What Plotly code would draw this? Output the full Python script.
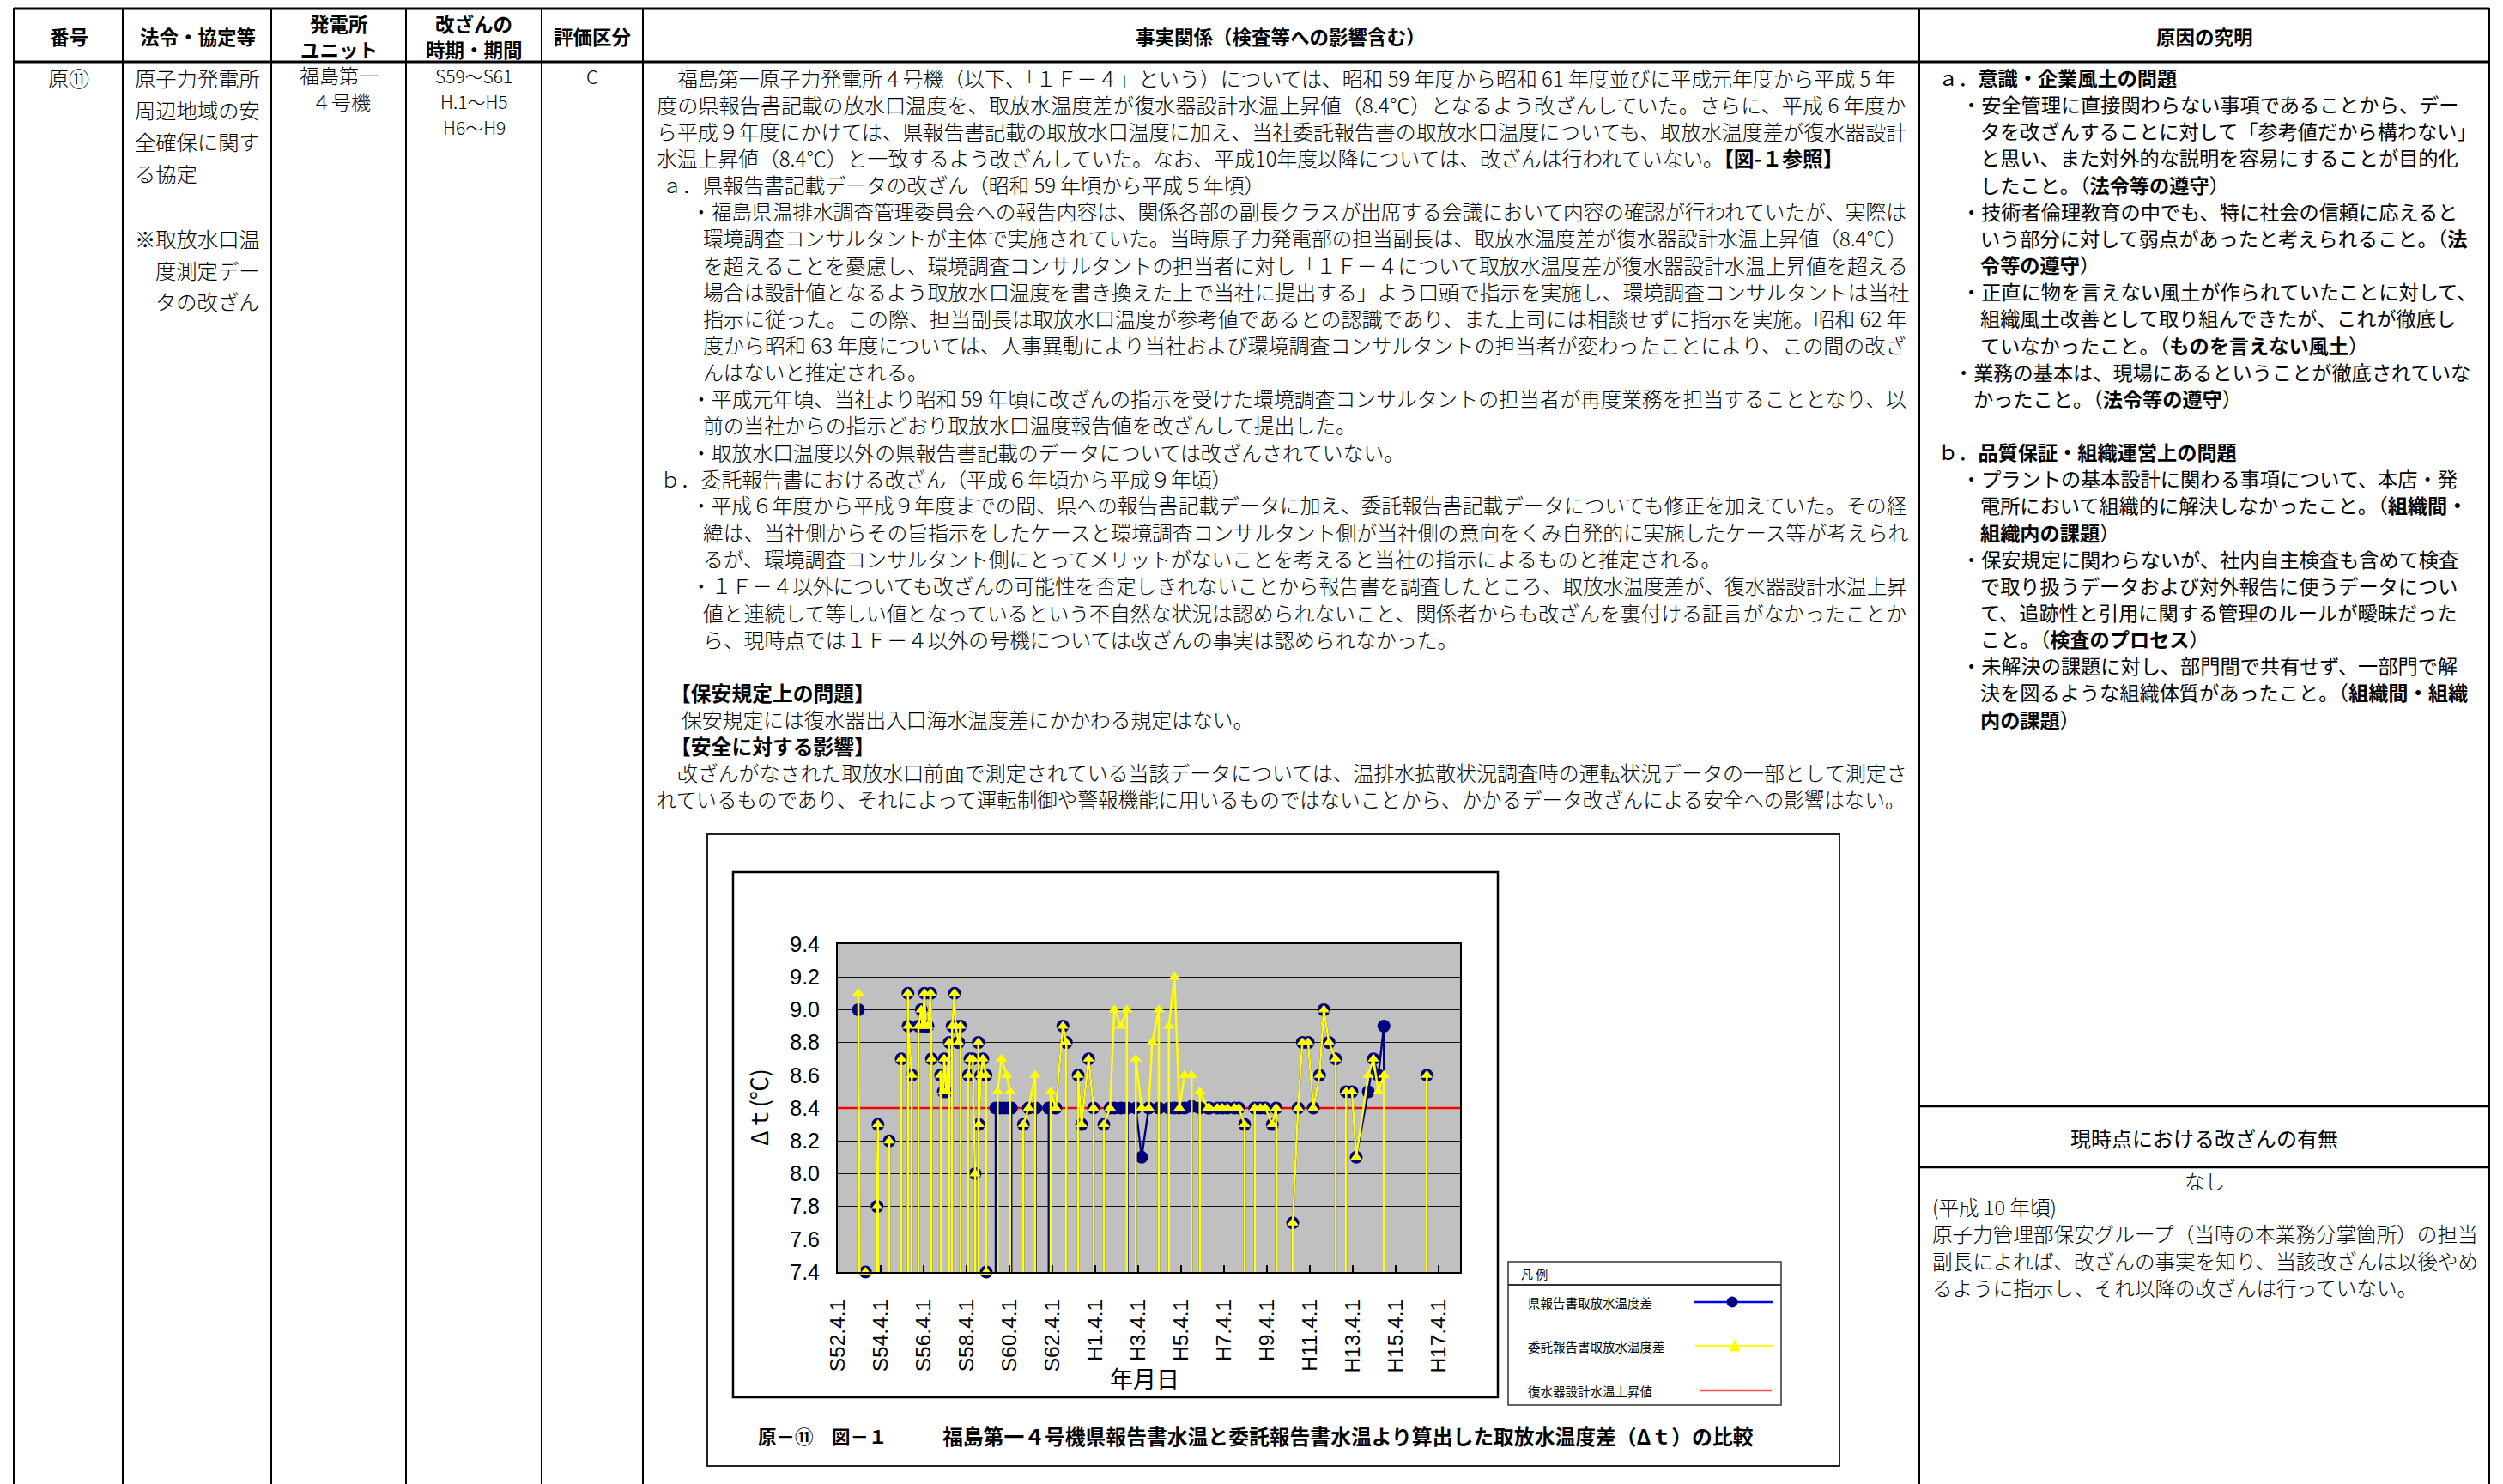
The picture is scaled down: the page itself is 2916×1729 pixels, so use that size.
import re
import plotly.graph_objects as go

W, H = 2916, 1729

# ------------------------------------------------------------------ chart data
# survey dates as decimal years; None = blank row between survey periods
TICK_DATES = [1977.25, 1979.25, 1981.25, 1983.25, 1985.25, 1987.25, 1989.25,
              1991.25, 1993.25, 1995.25, 1997.25, 1999.25, 2001.25, 2003.25, 2005.25]
TICK_LABELS = ["S52.4.1", "S54.4.1", "S56.4.1", "S58.4.1", "S60.4.1", "S62.4.1",
               "H1.4.1", "H3.4.1", "H5.4.1", "H7.4.1", "H9.4.1", "H11.4.1",
               "H13.4.1", "H15.4.1", "H17.4.1"]
X_RANGE = [1977.25, 2006.25]
Y_TICKS = [7.4, 7.6, 7.8, 8.0, 8.2, 8.4, 8.6, 8.8, 9.0, 9.2, 9.4]
DESIGN_RISE = 8.4  # 復水器設計水温上昇値

# 県報告書取放水温度差
KEN_DATES = [None,
    1978.21, None,
    1978.54, None,
    1979.08, 1979.12, None,
    1979.65, None,
    1980.21, None,
    1980.52, 1980.53, 1980.70, None,
    1981.01, 1981.14, 1981.20, 1981.29, 1981.34, 1981.45, 1981.58, 1981.62, None,
    1982.04, 1982.17, 1982.21, 1982.32, 1982.45, None,
    1982.58, 1982.69, 1982.74, 1982.88, 1982.97, None,
    1983.34, 1983.41, 1983.54, 1983.65, None,
    1983.80, 1983.82, 1983.92, 1984.01, 1984.16, 1984.17, None,
    1984.61, 1984.81, 1985.01, 1985.21, 1985.34, None,
    1985.90, 1986.14, 1986.48, None,
    1987.08, 1987.17, 1987.41, 1987.74, 1987.90, None,
    1988.45, 1988.61, 1988.94, 1989.17, None,
    1989.65, 1989.94, 1990.14, 1990.45, 1990.75, None,
    1991.14, 1991.41, 1991.74, 1992.21, None,
    1992.68, 1992.94, 1993.17, 1993.41, 1993.74, None,
    1994.12, 1994.50, 1994.58, 1994.94, 1995.17, 1995.41, 1995.74, 1995.94, 1996.21, None,
    1996.68, 1996.94, 1997.17, 1997.50, 1997.68, None,
    1998.45, 1998.70, 1998.90, 1999.17, 1999.41, 1999.70, 1999.90, 2000.14, 2000.45, None,
    2000.94, 2001.21, 2001.41, 2001.97, 2002.21, 2002.44, 2002.70, None,
    2004.70, None]
KEN_VALUES = [None,
    9.0, None,
    7.4, None,
    7.8, 8.3, None,
    8.2, None,
    8.7, None,
    9.1, 8.9, 8.6, None,
    8.9, 9.0, 8.9, 9.1, 8.9, 8.9, 9.1, 8.7, None,
    8.6, 8.5, 8.7, 8.5, 8.8, None,
    8.9, 9.1, 8.9, 8.8, 8.9, None,
    8.6, 8.7, 8.7, 8.0, None,
    8.8, 8.3, 8.6, 8.7, 8.6, 7.4, None,
    8.4, 8.4, 8.4, 8.4, 8.4, None,
    8.3, 8.4, 8.4, None,
    8.4, 8.4, 8.4, 8.9, 8.8, None,
    8.6, 8.3, 8.7, 8.4, None,
    8.3, 8.4, 8.4, 8.4, 8.4, None,
    8.4, 8.1, 8.4, 8.4, None,
    8.4, 8.4, 8.4, 8.4, 8.41, None,
    8.4, 8.4, 8.4, 8.4, 8.4, 8.4, 8.4, 8.4, 8.3, None,
    8.4, 8.4, 8.4, 8.3, 8.4, None,
    7.7, 8.4, 8.8, 8.8, 8.4, 8.6, 9.0, 8.8, 8.7, None,
    8.5, 8.5, 8.1, 8.5, 8.7, 8.6, 8.9, None,
    8.6, None]

# 委託報告書取放水温度差
ITAKU_DATES = [None,
    1978.21, None,
    1978.54, None,
    1979.08, 1979.12, None,
    1979.65, None,
    1980.21, None,
    1980.52, 1980.53, 1980.70, None,
    1981.01, 1981.14, 1981.20, 1981.29, 1981.34, 1981.45, 1981.58, 1981.62, None,
    1982.04, 1982.17, 1982.21, 1982.32, 1982.45, None,
    1982.58, 1982.69, 1982.74, 1982.88, 1982.97, None,
    1983.34, 1983.41, 1983.54, 1983.65, None,
    1983.80, 1983.82, 1983.92, 1984.01, 1984.16, 1984.17, None,
    1984.70, 1984.88, 1985.12, 1985.28, None,
    1985.90, 1986.14, 1986.45, None,
    1987.17, 1987.41, 1987.74, 1987.90, None,
    1988.45, 1988.61, 1988.94, 1989.17, None,
    1989.65, 1989.94, 1990.14, 1990.45, 1990.72, None,
    1991.14, 1991.41, 1991.74, 1991.90, 1992.21, None,
    1992.68, 1992.94, 1993.17, 1993.41, 1993.74, None,
    1994.12, 1994.50, 1994.58, 1994.94, 1995.17, 1995.41, 1995.74, 1995.94, 1996.21, None,
    1996.68, 1996.94, 1997.17, 1997.50, 1997.68, None,
    1998.45, 1998.70, 1998.90, 1999.17, 1999.41, 1999.70, 1999.90, 2000.14, 2000.45, None,
    2000.94, 2001.21, 2001.41, 2001.97, 2002.21, 2002.44, 2002.70, None,
    2004.70, None]
ITAKU_VALUES = [None,
    9.1, None,
    7.4, None,
    7.8, 8.3, None,
    8.2, None,
    8.7, None,
    9.1, 8.9, 8.6, None,
    8.9, 9.0, 8.9, 9.1, 8.9, 8.9, 9.1, 8.7, None,
    8.6, 8.5, 8.7, 8.5, 8.8, None,
    8.9, 9.1, 8.9, 8.8, 8.9, None,
    8.6, 8.7, 8.7, 8.0, None,
    8.8, 8.3, 8.6, 8.7, 8.6, 7.4, None,
    8.5, 8.7, 8.6, 8.5, None,
    8.3, 8.4, 8.6, None,
    8.5, 8.4, 8.9, 8.8, None,
    8.6, 8.3, 8.7, 8.4, None,
    8.3, 8.4, 9.0, 8.9, 9.0, None,
    8.7, 8.4, 8.4, 8.8, 9.0, None,
    8.9, 9.2, 8.4, 8.6, 8.6, None,
    8.5, 8.4, 8.4, 8.4, 8.4, 8.4, 8.4, 8.4, 8.3, None,
    8.4, 8.4, 8.4, 8.3, 8.4, None,
    7.7, 8.4, 8.8, 8.8, 8.4, 8.6, 9.0, 8.8, 8.7, None,
    8.5, 8.5, 8.1, 8.6, 8.7, 8.5, 8.6, None,
    8.6, None]

assert len(KEN_DATES) == len(KEN_VALUES)
assert len(ITAKU_DATES) == len(ITAKU_VALUES)

# ------------------------------------------------------------------ helpers
JP = "Noto Sans CJK JP"
LAT = "Liberation Sans, Arial, sans-serif"


def X(px):
    return px / W


def Y(py):
    return 1 - py / H


shapes = []
annotations = []


def line(x0, y0, x1, y1, w=2.0, color="black"):
    shapes.append(dict(type="line", xref="paper", yref="paper",
                       x0=X(x0), y0=Y(y0), x1=X(x1), y1=Y(y1),
                       line=dict(color=color, width=w)))


def rect(x0, y0, x1, y1, w=2.0, color="black"):
    shapes.append(dict(type="rect", xref="paper", yref="paper",
                       x0=X(x0), y0=Y(y0), x1=X(x1), y1=Y(y1),
                       line=dict(color=color, width=w), fillcolor="rgba(0,0,0,0)"))


def txt(x, y, s, size=23.6, anchor="left", family=JP, angle=0, color="black", weight=None):
    f = dict(family=family, size=size, color=color)
    if weight is not None:
        f["weight"] = weight
    annotations.append(dict(x=X(x), y=Y(y), xref="paper", yref="paper", text=s,
                            showarrow=False, xanchor=anchor, yanchor="middle",
                            textangle=angle, borderpad=0, font=f))


def em_width(s):
    s = re.sub(r"<[^>]+>", "", s)
    w = 0.0
    for ch in s:
        if ch == " ":
            w += 0.224
        elif ch.isdigit() and ord(ch) < 128:
            w += 0.553
        elif ch == ".":
            w += 0.27
        elif ord(ch) < 128:
            w += 0.6
        else:
            w += 1.0
    return w


def excel_path(dates, values):
    """Blank rows are plotted as zero by the source sheet (drop lines)."""
    xs, ys = [], []
    n = len(values)
    for i in range(n):
        if values[i] is None:
            if i > 0 and values[i - 1] is not None:
                xs.append(dates[i - 1]); ys.append(0.0)
            if i + 1 < n and values[i + 1] is not None:
                xs.append(dates[i + 1]); ys.append(0.0)
        else:
            xs.append(dates[i]); ys.append(values[i])
    return xs, ys


def points(dates, values):
    pts = [(d, v) for d, v in zip(dates, values) if v is not None]
    return [p[0] for p in pts], [p[1] for p in pts]


# ------------------------------------------------------------------ table frame
COLS = [16, 143, 316, 473, 631, 749, 2236, 2900]
line(COLS[0], 10, COLS[-1], 10, 3)
line(COLS[0], 72, COLS[-1], 72, 3)
for cx in COLS:
    line(cx, 9, cx, H, 2)
line(2236, 1289, 2900, 1289, 2.5)
line(2236, 1360, 2900, 1360, 2.5)

# header
HS = 22.5
txt(80, 42, "<b>番号</b>", HS, "center")
txt(230, 42, "<b>法令・協定等</b>", HS, "center")
txt(395, 27, "<b>発電所</b>", HS, "center")
txt(395, 57, "<b>ユニット</b>", HS, "center")
txt(552, 27, "<b>改ざんの</b>", HS, "center")
txt(552, 57, "<b>時期・期間</b>", HS, "center")
txt(690, 42, "<b>評価区分</b>", HS, "center")
txt(1492, 42, "<b>事実関係（検査等への影響含む）</b>", HS, "center")
txt(2568, 42, "<b>原因の究明</b>", HS, "center")

MW = 300  # light weight to imitate the Mincho body text

# left cells
txt(80, 91, "原⑪", 24, "center", weight=MW)
for yy, xx, s in [(91, 156, "原子力発電所"), (128, 156, "周辺地域の安"),
                  (165, 156, "全確保に関す"), (202, 156, "る協定"),
                  (277, 156, "※取放水口温"), (314, 180, "度測定デー"),
                  (351, 180, "タの改ざん")]:
    txt(xx, yy, s, 24.3, weight=MW)
txt(395, 87, "福島第一", 23, "center", weight=MW)
txt(397, 118, "４号機", 23, "center", weight=MW)
txt(552, 88, "S59～S61", 21, "center", weight=MW)
txt(552, 118, "H.1～H5", 21, "center", weight=MW)
txt(552, 148, "H6～H9", 21, "center", weight=MW)
txt(690, 88, "C", 22, "center", weight=MW)

# main column: (line index, left x, justified?, text)
MAIN = [
    (0, 788, True, "福島第一原子力発電所４号機（以下、「１Ｆ－４」という）については、昭和 59 年度から昭和 61 年度並びに平成元年度から平成 5 年"),
    (1, 764, True, "度の県報告書記載の放水口温度を、取放水温度差が復水器設計水温上昇値（8.4℃）となるよう改ざんしていた。さらに、平成 6 年度か"),
    (2, 764, True, "ら平成９年度にかけては、県報告書記載の取放水口温度に加え、当社委託報告書の取放水口温度についても、取放水温度差が復水器設計"),
    (3, 764, False, "水温上昇値（8.4℃）と一致するよう改ざんしていた。なお、平成10年度以降については、改ざんは行われていない。<b>【図-１参照】</b>"),
    (4, 770, False, "ａ．県報告書記載データの改ざん（昭和 59 年頃から平成５年頃）"),
    (5, 804, True, "・福島県温排水調査管理委員会への報告内容は、関係各部の副長クラスが出席する会議において内容の確認が行われていたが、実際は"),
    (6, 818, True, "環境調査コンサルタントが主体で実施されていた。当時原子力発電部の担当副長は、取放水温度差が復水器設計水温上昇値（8.4℃）"),
    (7, 818, True, "を超えることを憂慮し、環境調査コンサルタントの担当者に対し「１Ｆ－４について取放水温度差が復水器設計水温上昇値を超える"),
    (8, 818, True, "場合は設計値となるよう取放水口温度を書き換えた上で当社に提出する」よう口頭で指示を実施し、環境調査コンサルタントは当社"),
    (9, 818, True, "指示に従った。この際、担当副長は取放水口温度が参考値であるとの認識であり、また上司には相談せずに指示を実施。昭和 62 年"),
    (10, 818, True, "度から昭和 63 年度については、人事異動により当社および環境調査コンサルタントの担当者が変わったことにより、この間の改ざ"),
    (11, 818, False, "んはないと推定される。"),
    (12, 804, True, "・平成元年頃、当社より昭和 59 年頃に改ざんの指示を受けた環境調査コンサルタントの担当者が再度業務を担当することとなり、以"),
    (13, 818, False, "前の当社からの指示どおり取放水口温度報告値を改ざんして提出した。"),
    (14, 804, False, "・取放水口温度以外の県報告書記載のデータについては改ざんされていない。"),
    (15, 768, False, "ｂ．委託報告書における改ざん（平成６年頃から平成９年頃）"),
    (16, 804, True, "・平成６年度から平成９年度までの間、県への報告書記載データに加え、委託報告書記載データについても修正を加えていた。その経"),
    (17, 818, True, "緯は、当社側からその旨指示をしたケースと環境調査コンサルタント側が当社側の意向をくみ自発的に実施したケース等が考えられ"),
    (18, 818, False, "るが、環境調査コンサルタント側にとってメリットがないことを考えると当社の指示によるものと推定される。"),
    (19, 804, True, "・１Ｆ－４以外についても改ざんの可能性を否定しきれないことから報告書を調査したところ、取放水温度差が、復水器設計水温上昇"),
    (20, 818, True, "値と連続して等しい値となっているという不自然な状況は認められないこと、関係者からも改ざんを裏付ける証言がなかったことか"),
    (21, 818, False, "ら、現時点では１Ｆ－４以外の号機については改ざんの事実は認められなかった。"),
    (23, 780, False, "<b>【保安規定上の問題】</b>"),
    (24, 793, False, "保安規定には復水器出入口海水温度差にかかわる規定はない。"),
    (25, 780, False, "<b>【安全に対する影響】</b>"),
    (26, 788, True, "改ざんがなされた取放水口前面で測定されている当該データについては、温排水拡散状況調査時の運転状況データの一部として測定さ"),
    (27, 764, True, "れているものであり、それによって運転制御や警報機能に用いるものではないことから、かかるデータ改ざんによる安全への影響はない。"),
]
RIGHT_EDGE = 2224
for i, xx, just, s in MAIN:
    size = 23.8
    if just:
        size = max(22.8, min(24.6, (RIGHT_EDGE - xx) / em_width(s)))
    txt(xx, 90 + 31.15 * i, s, size, weight=MW)

# right column (gothic)
RIGHT = [
    (0, 2257, "ａ．<b>意識・企業風土の問題</b>"),
    (1, 2284, "・安全管理に直接関わらない事項であることから、デー"),
    (2, 2306, "タを改ざんすることに対して「参考値だから構わない」"),
    (3, 2306, "と思い、また対外的な説明を容易にすることが目的化"),
    (4, 2306, "したこと。（<b>法令等の遵守</b>）"),
    (5, 2284, "・技術者倫理教育の中でも、特に社会の信頼に応えると"),
    (6, 2306, "いう部分に対して弱点があったと考えられること。（<b>法</b>"),
    (7, 2306, "<b>令等の遵守</b>）"),
    (8, 2284, "・正直に物を言えない風土が作られていたことに対して、"),
    (9, 2306, "組織風土改善として取り組んできたが、これが徹底し"),
    (10, 2306, "ていなかったこと。（<b>ものを言えない風土</b>）"),
    (11, 2275, "・業務の基本は、現場にあるということが徹底されていな"),
    (12, 2298, "かったこと。（<b>法令等の遵守</b>）"),
    (14, 2257, "ｂ．<b>品質保証・組織運営上の問題</b>"),
    (15, 2284, "・プラントの基本設計に関わる事項について、本店・発"),
    (16, 2306, "電所において組織的に解決しなかったこと。（<b>組織間・</b>"),
    (17, 2306, "<b>組織内の課題</b>）"),
    (18, 2284, "・保安規定に関わらないが、社内自主検査も含めて検査"),
    (19, 2306, "で取り扱うデータおよび対外報告に使うデータについ"),
    (20, 2306, "て、追跡性と引用に関する管理のルールが曖昧だった"),
    (21, 2306, "こと。（<b>検査のプロセス</b>）"),
    (22, 2284, "・未解決の課題に対し、部門間で共有せず、一部門で解"),
    (23, 2306, "決を図るような組織体質があったこと。（<b>組織間・組織</b>"),
    (24, 2306, "<b>内の課題</b>）"),
]
for i, xx, s in RIGHT:
    txt(xx, 90 + 31.15 * i, s, 23.2)

txt(2568, 1325, "現時点における改ざんの有無", 24, "center")
txt(2568, 1376, "なし", 23.6, "center", weight=MW)
txt(2250, 1406, "(平成 10 年頃)", 23.6, weight=MW)
txt(2250, 1437, "原子力管理部保安グループ（当時の本業務分掌箇所）の担当", 23.6, weight=MW)
txt(2250, 1469, "副長によれば、改ざんの事実を知り、当該改ざんは以後やめ", 23.6, weight=MW)
txt(2250, 1500, "るように指示し、それ以降の改ざんは行っていない。", 23.6, weight=MW)

# ------------------------------------------------------------------ figure frame
rect(824, 972, 2143, 1708, 2, "#222222")
rect(854, 1016, 1745, 1628, 2.5, "black")
txt(882, 1672, "<b>原－⑪　図－１</b>", 21.5)
txt(1097, 1672, "<b>福島第一４号機県報告書水温と委託報告書水温より算出した取放水温度差（Δｔ）の比較</b>", 23.8)
txt(883, 1290, "Δｔ(℃)", 27, "center", angle=-90)
txt(1333, 1605, "年月日", 27, "center")

# legend (drawn as in the source sheet)
rect(1757, 1470, 2075, 1637, 1.5, "#333333")
line(1757, 1497, 2075, 1497, 2, "#333333")
txt(1771, 1484, "凡 例", 14)
txt(1779, 1517, "県報告書取放水温度差", 14.5)
txt(1779, 1568, "委託報告書取放水温度差", 14.5)
txt(1779, 1620, "復水器設計水温上昇値", 14.5)
line(1973, 1517, 2065, 1517, 2.5, "#0000FF")
shapes.append(dict(type="circle", xref="paper", yref="paper",
                   x0=X(2012), y0=Y(1523), x1=X(2024), y1=Y(1511),
                   fillcolor="#000080", line=dict(color="#000080", width=1)))
line(1975, 1568, 2065, 1568, 2, "#FFFF00")
shapes.append(dict(type="path", xref="paper", yref="paper",
                   path=f"M {X(2015)} {Y(1574)} L {X(2027)} {Y(1574)} L {X(2021)} {Y(1561)} Z",
                   fillcolor="#FFFF00", line=dict(color="#FFFF00", width=1)))
line(1980, 1620, 2064, 1620, 2.5, "#FF5050")

# ------------------------------------------------------------------ chart
fig = go.Figure()
fig.add_trace(go.Scatter(x=X_RANGE, y=[DESIGN_RISE, DESIGN_RISE], mode="lines",
                         line=dict(color="#FF0000", width=2.5),
                         name="復水器設計水温上昇値", hoverinfo="skip"))

kx, ky = excel_path(KEN_DATES, KEN_VALUES)
fig.add_trace(go.Scatter(x=kx, y=ky, mode="lines",
                         line=dict(color="#000080", width=2.4),
                         name="県報告書取放水温度差", hoverinfo="skip"))
kpx, kpy = points(KEN_DATES, KEN_VALUES)
fig.add_trace(go.Scatter(x=kpx, y=kpy, mode="markers", cliponaxis=False,
                         marker=dict(symbol="circle", size=15, color="#000080",
                                     line=dict(width=0)),
                         name="県報告書取放水温度差"))

ix, iy = excel_path(ITAKU_DATES, ITAKU_VALUES)
fig.add_trace(go.Scatter(x=ix, y=iy, mode="lines",
                         line=dict(color="#FFFF00", width=2.5),
                         name="委託報告書取放水温度差", hoverinfo="skip"))
ipx, ipy = points(ITAKU_DATES, ITAKU_VALUES)
fig.add_trace(go.Scatter(x=ipx, y=ipy, mode="markers", cliponaxis=False,
                         marker=dict(symbol="triangle-up", size=12, color="#FFFF00",
                                     line=dict(width=0)),
                         name="委託報告書取放水温度差"))

fig.update_layout(
    width=W, height=H,
    margin=dict(l=0, r=0, t=0, b=0),
    paper_bgcolor="white",
    plot_bgcolor="#C0C0C0",
    showlegend=False,
    font=dict(family=JP, color="black"),
    shapes=shapes,
    annotations=annotations,
    xaxis=dict(domain=[X(976), X(1701)], range=X_RANGE, automargin=False,
               tickmode="array", tickvals=TICK_DATES, ticktext=TICK_LABELS,
               tickangle=-90, ticks="inside", ticklen=8, tickwidth=1.5,
               tickcolor="black", ticklabelstandoff=20,
               tickfont=dict(family=LAT, size=24.5, color="black"),
               showgrid=False, zeroline=False,
               showline=True, linecolor="black", linewidth=2, mirror=True),
    yaxis=dict(domain=[Y(1482), Y(1100)], range=[7.4, 9.4], automargin=False,
               tickmode="array", tickvals=Y_TICKS,
               ticktext=[f"{v:.1f}" for v in Y_TICKS],
               ticks="", ticklabelstandoff=14,
               tickfont=dict(family=LAT, size=25, color="black"),
               showgrid=True, gridcolor="#111111", gridwidth=1.2, zeroline=False,
               showline=True, linecolor="black", linewidth=2, mirror=True),
)

fig.write_html("out.html",
               post_script="document.body.style.margin='0';document.body.style.overflow='hidden';")
